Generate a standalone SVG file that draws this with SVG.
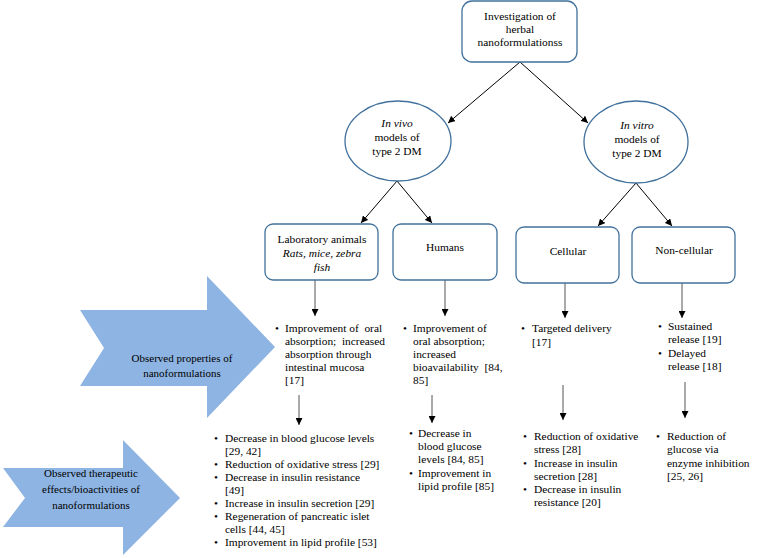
<svg xmlns="http://www.w3.org/2000/svg" width="760" height="558" viewBox="0 0 760 558" font-family="'Liberation Serif', 'Times New Roman', 'DejaVu Serif', serif">
<defs>
<marker id="ah" viewBox="0 0 10 10" refX="10" refY="5" markerWidth="7" markerHeight="7" markerUnits="userSpaceOnUse" orient="auto">
<path d="M0,0 L10,5 L0,10 z" fill="#000"/>
</marker>
<style>
text{font-family:'Liberation Serif','Times New Roman','DejaVu Serif',serif;font-size:11.4px;fill:#000}
.c{text-anchor:middle}
.i{font-style:italic}
.s{font-size:11px}
.node{fill:#fff;stroke:#41719C;stroke-width:1.3}
.con line{stroke:#000;stroke-width:1;marker-end:url(#ah)}
.con line.g{stroke:#555}
.band{fill:#8EB4E3}
</style>
</defs>
<rect width="760" height="558" fill="#fff"/>

<g id="arrow-properties">
<path class="band" d="M80,310 L207,310 L207,276 L275,347 L207,418 L207,386 L80,386 L104,348 Z"/>
<text class="c s" x="182" y="362">Observed properties of</text>
<text class="c s" x="182" y="377">nanoformulations</text>
</g>
<g id="arrow-effects">
<path class="band" d="M3,468 L123,468 L123,440 L180,498 L123,555 L123,527 L3,527 L25,498 Z"/>
<text class="c s" x="91" y="477">Observed therapeutic</text>
<text class="c s" x="91" y="493">effects/bioactivities of</text>
<text class="c s" x="91" y="509">nanoformulations</text>
</g>

<g class="con" id="connectors">
<line x1="520" y1="62" x2="448" y2="123"/>
<line x1="520" y1="62" x2="588" y2="123"/>
<line x1="397" y1="181" x2="361" y2="223"/>
<line x1="397" y1="181" x2="432" y2="223"/>
<line x1="636" y1="183" x2="598" y2="226"/>
<line x1="636" y1="183" x2="672" y2="226"/>
<line class="g" x1="315" y1="280" x2="315" y2="316"/>
<line class="g" x1="445" y1="280" x2="445" y2="316"/>
<line class="g" x1="565" y1="283" x2="565" y2="318"/>
<line class="g" x1="682" y1="283" x2="682" y2="318"/>
<line class="g" x1="299" y1="395" x2="299" y2="425"/>
<line class="g" x1="432" y1="395" x2="432" y2="423"/>
<line class="g" x1="563" y1="385" x2="563" y2="420"/>
<line class="g" x1="685" y1="382" x2="685" y2="418"/>
</g>

<g id="root">
<rect class="node" x="462" y="1" width="115" height="61" rx="10"/>
<text class="c" x="520" y="20">Investigation of</text>
<text class="c" x="520" y="33">herbal</text>
<text class="c" x="520" y="46">nanoformulationss</text>
</g>

<g id="in-vivo">
<ellipse class="node" cx="398" cy="141" rx="53" ry="40"/>
<text class="c i" x="397" y="127">In vivo</text>
<text class="c" x="397" y="141">models of</text>
<text class="c" x="397" y="155">type 2 DM</text>
</g>

<g id="in-vitro">
<ellipse class="node" cx="636" cy="142" rx="52" ry="41"/>
<text class="c i" x="637" y="129">In vitro</text>
<text class="c" x="637" y="143">models of</text>
<text class="c" x="637" y="157">type 2 DM</text>
</g>

<g id="lab-animals">
<rect class="node" x="265" y="224" width="113" height="56" rx="8"/>
<text class="c" x="322" y="243">Laboratory animals</text>
<text class="c i" x="322" y="257">Rats, mice, zebra</text>
<text class="c i" x="322" y="271">fish</text>
</g>

<g id="humans">
<rect class="node" x="393" y="224" width="104" height="56" rx="8"/>
<text class="c" x="445" y="251">Humans</text>
</g>

<g id="cellular">
<rect class="node" x="516" y="227" width="103" height="56" rx="8"/>
<text class="c" x="568" y="255">Cellular</text>
</g>

<g id="non-cellular">
<rect class="node" x="632" y="227" width="103" height="56" rx="8"/>
<text class="c" x="684" y="254">Non-cellular</text>
</g>

<g id="props-lab">
<text class="c" x="277" y="332">•</text>
<text x="285" y="332" xml:space="preserve">Improvement of  oral</text>
<text x="285" y="345" xml:space="preserve">absorption;  increased</text>
<text x="285" y="358">absorption through</text>
<text x="285" y="371">intestinal mucosa</text>
<text x="285" y="384">[17]</text>
</g>

<g id="props-humans">
<text class="c" x="405" y="332">•</text>
<text x="413" y="332">Improvement of</text>
<text x="413" y="345">oral absorption;</text>
<text x="413" y="358">increased</text>
<text x="413" y="371" xml:space="preserve">bioavailability  [84,</text>
<text x="413" y="384">85]</text>
</g>

<g id="props-cellular">
<text class="c" x="523" y="332">•</text>
<text x="532" y="332">Targeted delivery</text>
<text x="532" y="346">[17]</text>
</g>

<g id="props-noncellular">
<text class="c" x="660" y="330">•</text>
<text x="668" y="330">Sustained</text>
<text x="668" y="343">release [19]</text>
<text class="c" x="660" y="357">•</text>
<text x="668" y="357">Delayed</text>
<text x="668" y="370">release [18]</text>
</g>

<g id="effects-lab">
<text class="c" x="216" y="442">•</text>
<text x="225" y="442">Decrease in blood glucose levels</text>
<text x="225" y="455">[29, 42]</text>
<text class="c" x="216" y="468">•</text>
<text x="225" y="468">Reduction of oxidative stress [29]</text>
<text class="c" x="216" y="481">•</text>
<text x="225" y="481">Decrease in insulin resistance</text>
<text x="225" y="494">[49]</text>
<text class="c" x="216" y="507">•</text>
<text x="225" y="507">Increase in insulin secretion [29]</text>
<text class="c" x="216" y="520">•</text>
<text x="225" y="520">Regeneration of pancreatic islet</text>
<text x="225" y="533">cells [44, 45]</text>
<text class="c" x="216" y="546">•</text>
<text x="225" y="546">Improvement in lipid profile [53]</text>
</g>

<g id="effects-humans">
<text class="c" x="411" y="437">•</text>
<text x="418" y="437">Decrease in</text>
<text x="418" y="450">blood glucose</text>
<text x="418" y="463">levels [84, 85]</text>
<text class="c" x="411" y="477">•</text>
<text x="418" y="477">Improvement in</text>
<text x="418" y="490">lipid profile [85]</text>
</g>

<g id="effects-cellular">
<text class="c" x="525" y="440">•</text>
<text x="534" y="440">Reduction of oxidative</text>
<text x="534" y="453">stress [28]</text>
<text class="c" x="525" y="467">•</text>
<text x="534" y="467">Increase in insulin</text>
<text x="534" y="480">secretion [28]</text>
<text class="c" x="525" y="493">•</text>
<text x="534" y="493">Decrease in insulin</text>
<text x="534" y="506">resistance [20]</text>
</g>

<g id="effects-noncellular">
<text class="c" x="658" y="440">•</text>
<text x="667" y="440">Reduction of</text>
<text x="667" y="453">glucose via</text>
<text x="667" y="467">enzyme inhibition</text>
<text x="667" y="480">[25, 26]</text>
</g>
</svg>
